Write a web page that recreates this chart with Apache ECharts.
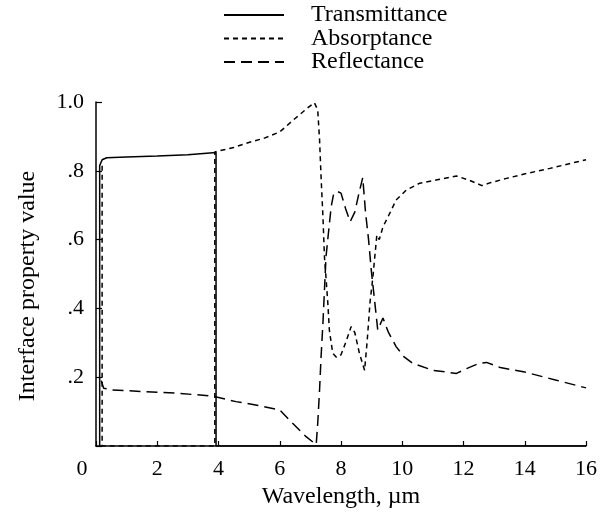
<!DOCTYPE html>
<html>
<head>
<meta charset="utf-8">
<script src="https://cdn.jsdelivr.net/npm/echarts@6/dist/echarts.min.js"></script>
<style>html,body{margin:0;padding:0;background:#fff;}#c{width:602px;height:514px;}</style>
</head>
<body>
<div id="c"></div>
<script>
// Wavelength (µm) and property values
const transX = [0.12, 0.12, 0.2, 0.35, 1.0, 2.0, 3.0, 3.92, 3.92, 16];
const transY = [0, 0.815, 0.832, 0.838, 0.84, 0.843, 0.847, 0.853, 0, 0];

const absX = [0.2, 0.2, 3.88, 3.88, 4.5, 4.9, 5.5, 6.0, 6.5, 6.9, 7.13, 7.24, 7.30, 7.35, 7.41, 7.46, 7.51, 7.57, 7.62, 7.68, 7.73, 7.85, 8.0, 8.15, 8.33, 8.45, 8.6, 8.77, 8.85, 8.95, 9.04, 9.17, 9.25, 9.37, 9.59, 9.8, 10.13, 10.57, 11.1, 11.77, 12.2, 12.6, 12.86, 13.41, 13.95, 14.82, 15.8, 16.0];
const absY = [0.815, 0, 0, 0.855, 0.868, 0.88, 0.895, 0.913, 0.952, 0.982, 0.998, 0.977, 0.89, 0.78, 0.667, 0.55, 0.49, 0.415, 0.337, 0.3, 0.27, 0.258, 0.265, 0.3, 0.347, 0.33, 0.27, 0.22, 0.3, 0.42, 0.49, 0.613, 0.6, 0.637, 0.676, 0.715, 0.744, 0.764, 0.773, 0.785, 0.772, 0.757, 0.765, 0.778, 0.79, 0.807, 0.828, 0.832];

const refX = [0.17, 0.25, 0.53, 1.62, 2.72, 3.8, 4.57, 5.3, 6.0, 6.42, 6.86, 7.19, 7.24, 7.30, 7.35, 7.41, 7.46, 7.51, 7.6, 7.68, 7.76, 7.88, 8.0, 8.15, 8.3, 8.45, 8.6, 8.71, 8.8, 8.9, 8.99, 9.1, 9.2, 9.37, 9.55, 9.8, 10.05, 10.35, 11.0, 11.77, 12.1, 12.5, 12.75, 13.2, 14.0, 15.0, 16.0];
const refY = [0.19, 0.168, 0.163, 0.158, 0.153, 0.145, 0.129, 0.118, 0.105, 0.066, 0.027, 0.004, 0.066, 0.163, 0.26, 0.357, 0.453, 0.55, 0.628, 0.696, 0.733, 0.74, 0.735, 0.69, 0.652, 0.68, 0.74, 0.78, 0.68, 0.6, 0.51, 0.42, 0.337, 0.372, 0.33, 0.289, 0.26, 0.24, 0.22, 0.211, 0.225, 0.24, 0.243, 0.228, 0.215, 0.192, 0.169];

const seriesNames = ['Transmittance', 'Absorptance', 'Reflectance'];
const xTicks = [0, 2, 4, 6, 8, 10, 12, 14, 16];
const yTickLabels = {0.2: '.2', 0.4: '.4', 0.6: '.6', 0.8: '.8', 1: '1.0'};

const pairs = (xs, ys) => xs.map((x, i) => [x, ys[i]]);
const FONT = 'Liberation Serif';

const chart = echarts.init(document.getElementById('c'), null, {renderer: 'canvas'});
chart.setOption({
  animation: false,
  backgroundColor: '#fff',
  textStyle: {fontFamily: FONT, color: '#000'},
  legend: {
    orient: 'vertical',
    left: 218,
    top: -2,
    itemWidth: 60,
    itemHeight: 22,
    itemGap: -0.5,
    data: seriesNames,
    itemStyle: {opacity: 0},
    textStyle: {fontFamily: FONT, fontSize: 24, color: '#000', padding: [0, 0, 0, 22]}
  },
  grid: {left: 96, right: 16, top: 102, bottom: 68, containLabel: false},
  xAxis: {
    type: 'value', min: 0, max: 16, interval: 2,
    name: 'Wavelength, µm', nameLocation: 'middle', nameGap: 38,
    nameTextStyle: {fontFamily: FONT, fontSize: 24, color: '#000'},
    axisLine: {lineStyle: {color: '#000', width: 1.5}},
    axisTick: {inside: true, length: 5, lineStyle: {color: '#000', width: 1.2}},
    splitLine: {show: false},
    axisLabel: {
      fontFamily: FONT, fontSize: 22, color: '#000', margin: 12,
      formatter: v => (xTicks.indexOf(v) >= 0 ? (v === 0 ? '{z|0}' : String(v)) : ''),
      rich: {z: {fontFamily: FONT, fontSize: 22, color: '#000', padding: [0, 28, 0, 0]}}
    }
  },
  yAxis: {
    type: 'value', min: 0, max: 1, interval: 0.2,
    name: 'Interface property value', nameLocation: 'middle', nameGap: 56,
    nameTextStyle: {fontFamily: FONT, fontSize: 24, color: '#000', padding: [0, 0, 0, -24]},
    axisLine: {show: true, lineStyle: {color: '#000', width: 1.5}},
    axisTick: {show: true, inside: true, length: 6, lineStyle: {color: '#000', width: 1.2}},
    splitLine: {show: false},
    axisLabel: {
      fontFamily: FONT, fontSize: 22, color: '#000', margin: 12,
      formatter: v => yTickLabels[Math.round(v * 10) / 10] || ''
    }
  },
  series: [
    {name: seriesNames[0], type: 'line', data: pairs(transX, transY), symbol: 'none',
     lineStyle: {color: '#000', width: 1.5, type: 'solid'}, itemStyle: {color: '#000'}},
    {name: seriesNames[1], type: 'line', data: pairs(absX, absY), symbol: 'none',
     lineStyle: {color: '#000', width: 1.5, type: [5, 4]}, itemStyle: {color: '#000'}},
    {name: seriesNames[2], type: 'line', data: pairs(refX, refY), symbol: 'none',
     lineStyle: {color: '#000', width: 1.5, type: [11, 6]}, itemStyle: {color: '#000'}}
  ]
});
</script>
</body>
</html>
